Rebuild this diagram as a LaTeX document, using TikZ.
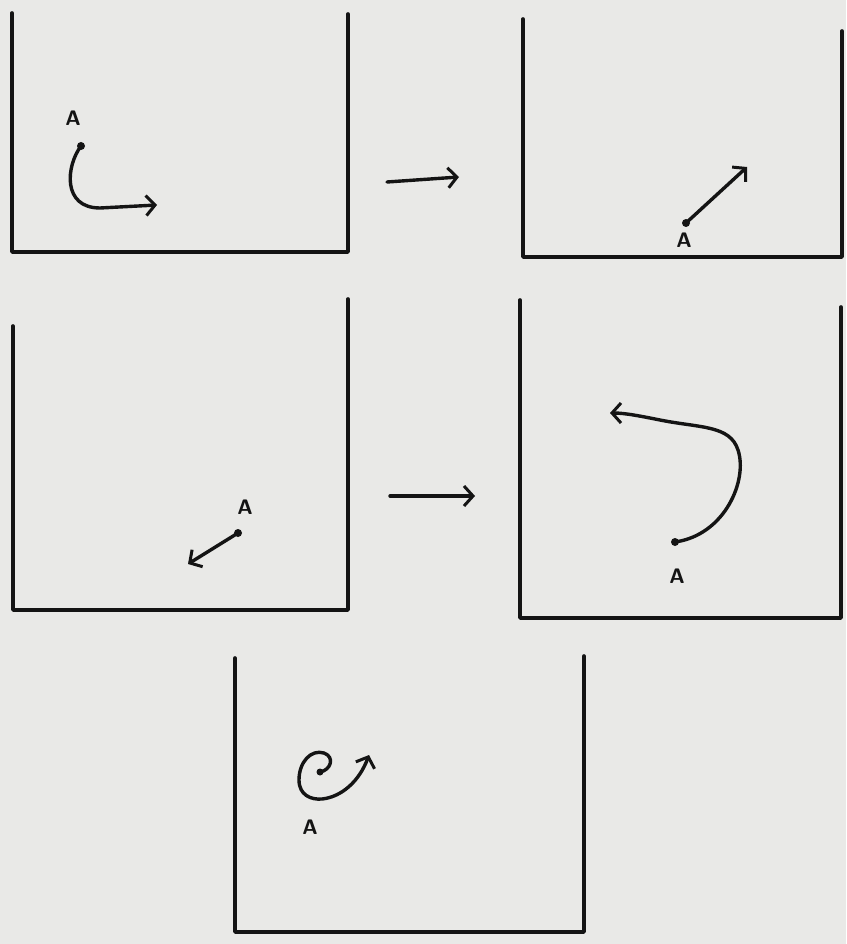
\documentclass[tikz,border=0pt]{standalone}
\usepackage{tikz}
\usetikzlibrary{arrows.meta, calc}
\definecolor{Paper}{HTML}{E9E9E7}
\definecolor{Ink}  {HTML}{141414}

\tikzset{
  wall/.style={Ink, line width=3.6pt, line cap=round, line join=round},
  move/.style={Ink, line width=3.4pt, line cap=round,
    -{Straight Barb[length=9pt, width=20pt, line width=3pt]}},
  spot/.style={circle, fill=Ink, inner sep=0pt, minimum size=8pt},
  tag/.style={Ink, inner sep=0pt, font=\sffamily\bfseries\fontsize{21}{21}\selectfont}
}

\begin{document}
\begin{tikzpicture}[x=1pt, y=-1pt]
      \fill[Paper] (0,0) rectangle (846,944);
      % containers
      \draw[wall] (12,13)  -- (12,252)  -- (348,252) -- (348,14);
      \draw[wall] (523,19) -- (523,257) -- (842,257) -- (842,31);
      \draw[wall] (13,326) -- (13,610)  -- (348,610) -- (348,299);
      \draw[wall] (520,300) -- (520,618) -- (841,618) -- (841,307);
      \draw[wall] (235,658) -- (235,932) -- (584,932) -- (584,656);
      % steps
      \coordinate (s1) at (387,182); \coordinate (e1) at (459,177);
      \coordinate (s2) at (390,496); \coordinate (e2) at (475,496);
      \draw[move] (s1) -- (e1);
      \draw[move] (s2) -- (e2);
      % A, box 1
      \node[spot] (a1) at (81,146) {};
      \node[tag]  (t1) at (73,118) {A};
      \coordinate (f1) at (157,205);
      \draw[move] (a1.center) .. controls (66,166) and (62,208) .. (100,208) -- (f1);
      % A, box 2
      \node[spot] (a2) at (686,223) {};
      \node[tag]  (t2) at (684,240) {A};
      \coordinate (f2) at (747,167);
      \draw[move] (a2.center) -- (f2);
      % A, box 3
      \node[spot] (a3) at (238,533) {};
      \node[tag]  (t3) at (245,507) {A};
      \coordinate (f3) at (188,564);
      \draw[move] (a3.center) -- (f3);
      % A, box 4
      \node[spot] (a4) at (675,542) {};
      \node[tag]  (t4) at (677,576) {A};
      \coordinate (f4) at (610,413);
      \draw[move] (a4.center) .. controls (725,535) and (748,480) .. (738,450)
        .. controls (730,425) and (700,428) .. (660,420)
        .. controls (640,416) and (625,413) .. (f4);
      % A, box 5
      \node[spot, minimum size=7pt] (a5) at (320,772) {};
      \node[tag]  (t5) at (310,827) {A};
      \coordinate (f5) at (369,755);
      \draw[move] (a5.center) .. controls (331,770) and (335,757) .. (324,753)
        .. controls (311,749) and (299,762) .. (299,780)
        .. controls (299,795) and (311,800) .. (322,799)
        .. controls (341,797) and (359,782) .. (f5);
    \end{tikzpicture}
\end{document}
